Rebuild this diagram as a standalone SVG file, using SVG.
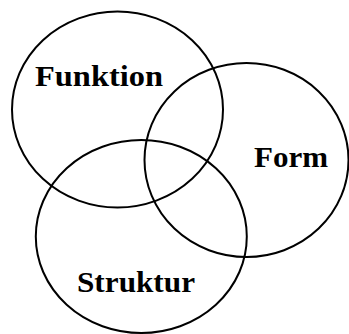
<svg xmlns="http://www.w3.org/2000/svg" width="349" height="334" viewBox="0 0 349 334">
<style>
.c{fill:none;stroke:#000;stroke-width:2}
.t{font-family:"Liberation Serif","DejaVu Serif",serif;font-weight:bold;font-size:30px;fill:#000}
</style>
<rect width="349" height="334" fill="#fff"/>
<g id="funktion">
<ellipse class="c" cx="117.5" cy="109.5" rx="105.5" ry="98"/>
<text class="t" x="35" y="86" textLength="128" lengthAdjust="spacingAndGlyphs">Funktion</text>
</g>
<g id="form">
<ellipse class="c" cx="246.5" cy="160" rx="102" ry="97"/>
<text class="t" x="254" y="167" textLength="74" lengthAdjust="spacingAndGlyphs">Form</text>
</g>
<g id="struktur">
<ellipse class="c" cx="141.3" cy="236.5" rx="105.5" ry="96.5"/>
<text class="t" x="77" y="292" textLength="118" lengthAdjust="spacingAndGlyphs">Struktur</text>
</g>
</svg>
